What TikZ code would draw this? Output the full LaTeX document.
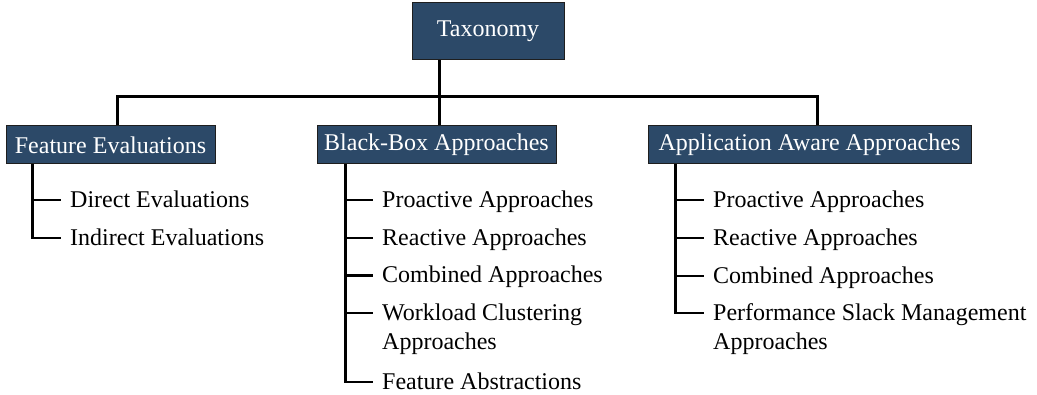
\documentclass[tikz,border=0pt]{standalone}
\usepackage{fontspec}
\IfFontExistsTF{LibertinusSerif-Regular.otf}
  {\setmainfont{LibertinusSerif-Regular.otf}}
  {\IfFontExistsTF{LinLibertine_R.otf}
    {\setmainfont{LinLibertine_R.otf}}
    {\setmainfont{Liberation Serif}}}
\usetikzlibrary{calc}
\definecolor{boxblue}{RGB}{44,73,104}
\definecolor{boxline}{RGB}{30,30,30}
\newcommand{\itemfont}{\fontsize{24}{29}\selectfont}
\tikzset{
  catbox/.style={draw=boxline, line width=1pt, fill=boxblue, text=white,
    inner sep=0pt, font=\itemfont},
  leaf/.style={anchor=north west, inner sep=0pt, align=left, font=\itemfont},
  conn/.style={draw=black, line width=2.2pt},
}
\begin{document}
\begin{tikzpicture}[x=1pt,y=-1pt]
\useasboundingbox (0,0) rectangle (1037,395);
% category boxes
\node[catbox, minimum width=152, minimum height=57] (tax) at (488,31.5) {Taxonomy};
\node[catbox, minimum width=209, minimum height=38] (fe) at (110.5,145) {Feature Evaluations};
\node[catbox, minimum width=239, minimum height=38] (bb) at (436.5,145) {Black-Box Approaches};
\node[catbox, minimum width=323, minimum height=38] (aa) at (809.5,145) {Application Aware Approaches};
% leaves (y = branch y - 13.3)
\node[leaf] (fe1) at (70,186.7) {\strut Direct Evaluations};
\node[leaf] (fe2) at (70,224.7) {\strut Indirect Evaluations};
\node[leaf] (bb1) at (382,186.7) {\strut Proactive Approaches};
\node[leaf] (bb2) at (382,224.7) {\strut Reactive Approaches};
\node[leaf] (bb3) at (382,262.2) {\strut Combined Approaches};
\node[leaf] (bb4) at (382,299.7) {\strut Workload Clustering\\\strut Approaches};
\node[leaf] (bb5) at (382,368.7) {\strut Feature Abstractions};
\node[leaf] (aa1) at (713,186.7) {\strut Proactive Approaches};
\node[leaf] (aa2) at (713,224.7) {\strut Reactive Approaches};
\node[leaf] (aa3) at (713,262.7) {\strut Combined Approaches};
\node[leaf] (aa4) at (713,299.7) {\strut Performance Slack Management\\\strut Approaches};
% top connectors
\draw[conn] ($(tax.south west)+(28,0)$) -- ($(bb.north west)+(123,0)$);
\draw[conn] ($(fe.north west)+(112,0)$) -- ++(0,-29) -| ($(aa.north west)+(170,0)$);
% stems
\coordinate (feS) at ($(fe.south west)+(27,0)$);
\coordinate (bbS) at ($(bb.south west)+(29,0)$);
\coordinate (aaS) at ($(aa.south west)+(28,0)$);
\foreach \c in {fe1,fe2}{\draw[conn] (feS) |- ($(\c.north west)+(-9,13.3)$);}
\foreach \c in {bb1,bb2,bb3,bb4,bb5}{\draw[conn] (bbS) |- ($(\c.north west)+(-9,13.3)$);}
\foreach \c in {aa1,aa2,aa3,aa4}{\draw[conn] (aaS) |- ($(\c.north west)+(-9,13.3)$);}
\end{tikzpicture}
\end{document}
